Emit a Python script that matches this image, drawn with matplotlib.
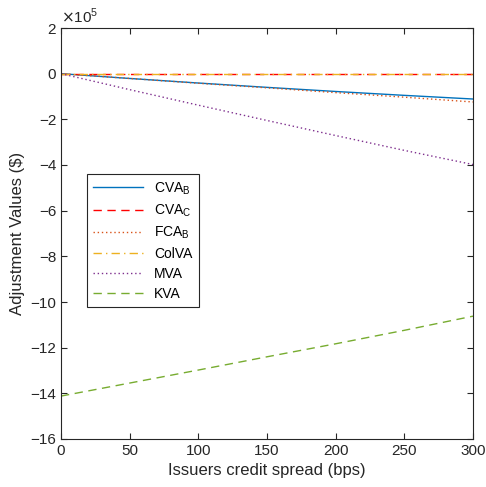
import numpy as np
import matplotlib.pyplot as plt

plt.rcParams['font.family'] = ['Liberation Sans', 'DejaVu Sans']

# spread in bps, adjustment values in units of 1e5 $
spread = [0, 50, 100, 150, 200, 250, 300]
cva_b = [0.0, -0.21, -0.41, -0.60, -0.78, -0.95, -1.11]
cva_c = [0, 0, 0, 0, 0, 0, 0]
fca_b = [0.0, -0.21, -0.42, -0.62, -0.83, -1.03, -1.24]
colva = [0, 0, 0, 0, 0, 0, 0]
mva = [0.0, -0.70, -1.38, -2.05, -2.71, -3.36, -3.98]
kva = [-14.12, -13.55, -12.98, -12.40, -11.83, -11.24, -10.62]

fig = plt.figure(figsize=(4.86, 4.87), dpi=100)
ax = fig.add_axes([61 / 486, 48 / 487, 412 / 486, 411 / 487])

ax.plot(spread, cva_b, color='#0072BD', lw=1.0, label='$\\mathregular{CVA_B}$')
ax.plot(spread, cva_c, color='#FF0000', lw=1.0, ls=(0, (6, 4)), label='$\\mathregular{CVA_C}$')
ax.plot(spread, fca_b, color='#D95319', lw=1.0, ls=(0, (1, 2)), label='$\\mathregular{FCA_B}$')
ax.plot(spread, colva, color='#EDB120', lw=1.0, ls=(0, (6, 3, 1, 3)), label='ColVA')
ax.plot(spread, mva, color='#7E2F8E', lw=1.0, ls=(0, (1, 2)), label='MVA')
ax.plot(spread, kva, color='#77AC30', lw=1.0, ls=(0, (6, 4)), label='KVA')

ax.set_xlim(0, 300)
ax.set_ylim(-16, 2)
ax.set_xticks(np.arange(0, 301, 50))
ax.set_yticks(np.arange(-16, 3, 2))
ax.tick_params(direction='in', top=True, right=True, labelsize=11, length=4,
               color='#262626', labelcolor='#262626', width=0.8)
for s in ax.spines.values():
    s.set_color('#262626')
    s.set_linewidth(0.8)

ax.set_xlabel('Issuers credit spread (bps)', fontsize=12, color='#262626')
ax.set_ylabel('Adjustment Values ($)', fontsize=12, color='#262626')
ax.text(0, 1.005, '$\\times$10$^\\mathregular{5}$', transform=ax.transAxes,
        fontsize=11, color='#262626', va='bottom', ha='left')

leg = ax.legend(loc='upper left', bbox_to_anchor=(0.062, 0.645), fontsize=10,
                fancybox=False, framealpha=1, edgecolor='#262626',
                handlelength=3.6, labelspacing=0.42, borderpad=0.45,
                borderaxespad=0)
leg.get_frame().set_linewidth(0.8)

fig.savefig('out.png', dpi=100)
